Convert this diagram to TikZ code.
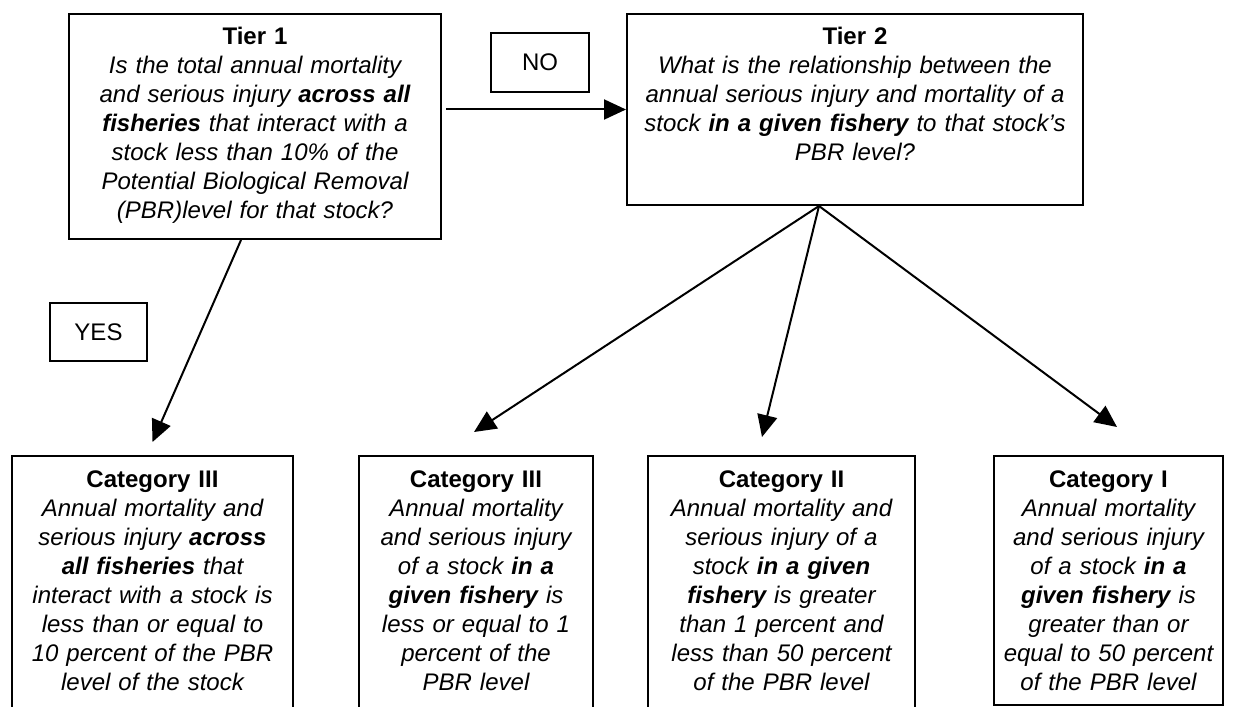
\documentclass[tikz,border=0pt]{standalone}
\usepackage{fontspec}
\setmainfont{Liberation Sans}
\usetikzlibrary{arrows.meta}
\begin{document}
\begin{tikzpicture}[x=0.5pt, y=-0.5pt,
  frame/.style={draw, line width=1pt, inner sep=0pt},
  txt/.style={anchor=base, inner sep=0pt, align=center, font=\fontsize{12}{14.5}\selectfont},
  link/.style={line width=1pt, -{Triangle[length=11pt, width=10pt]}}]

  % === 上层两个问题框 ===
  \node[frame, anchor=north west, minimum width=186pt, minimum height=112.5pt] (tier1) at (68,13) {};
  \node[frame, anchor=north west, minimum width=228pt, minimum height=95.5pt] (tier2) at (626,13) {};

  \node[txt, text width=180pt] (tier1txt) at ([yshift=-16pt]tier1.north) {\textbf{Tier 1}\\
    \itshape Is the total annual mortality\\
    and serious injury \textbf{across all}\\
    \textbf{fisheries} that interact with a\\
    stock less than 10\% of the\\
    Potential Biological Removal\\
    (PBR)level for that stock?};
  \node[txt, text width=220pt] (tier2txt) at ([yshift=-16pt]tier2.north) {\textbf{Tier 2}\\
    \itshape What is the relationship between the\\
    annual serious injury and mortality of a\\
    stock \textbf{in a given fishery} to that stock's\\
    PBR level?};

  % === YES / NO 标签框 ===
  \node[frame, anchor=north west, minimum width=49pt, minimum height=29.5pt,
        font=\fontsize{12}{14.5}\selectfont] (nobox) at (490,32) {NO};
  \node[frame, anchor=north west, minimum width=48.5pt, minimum height=29pt,
        font=\fontsize{12}{14.5}\selectfont] (yesbox) at (49,302) {YES};

  % === 底部四个类别框（下边缘超出画面）===
  \node[frame, anchor=north west, minimum width=140.5pt, minimum height=130pt] (cat3a) at (11,455) {};
  \node[frame, anchor=north west, minimum width=117pt, minimum height=130pt] (cat3b) at (358,455) {};
  \node[frame, anchor=north west, minimum width=133.5pt, minimum height=130pt] (cat2) at (647,455) {};
  \node[frame, anchor=north west, minimum width=114.5pt, minimum height=124.5pt] (cat1) at (993,455) {};

  \node[txt, text width=135pt] (cat3atxt) at ([yshift=-16pt]cat3a.north) {\textbf{Category III}\\
    \itshape Annual mortality and\\
    serious injury \textbf{across}\\
    \textbf{all fisheries} that\\
    interact with a stock is\\
    less than or equal to\\
    10 percent of the PBR\\
    level of the stock};
  \node[txt, text width=112pt] (cat3btxt) at ([yshift=-16pt]cat3b.north) {\textbf{Category III}\\
    \itshape Annual mortality\\
    and serious injury\\
    of a stock \textbf{in a}\\
    \textbf{given fishery} is\\
    less or equal to 1\\
    percent of the\\
    PBR level};
  \node[txt, text width=128pt] (cat2txt) at ([yshift=-16pt]cat2.north) {\textbf{Category II}\\
    \itshape Annual mortality and\\
    serious injury of a\\
    stock \textbf{in a given}\\
    \textbf{fishery} is greater\\
    than 1 percent and\\
    less than 50 percent\\
    of the PBR level};
  \node[txt, text width=110pt] (cat1txt) at ([yshift=-16pt]cat1.north) {\textbf{Category I}\\
    \itshape Annual mortality\\
    and serious injury\\
    of a stock \textbf{in a}\\
    \textbf{given fishery} is\\
    greater than or\\
    equal to 50 percent\\
    of the PBR level};

  % === 箭头 ===
  \draw[link, shorten <=2pt] (tier1.east |- tier2.west) -- (tier2.west);
  \draw[link] ([xshift=-7pt]tier1.south) -- ([yshift=6.5pt]cat3a.north);

  % 第二层的三支箭头从同一点出发
  \coordinate (fan) at ([xshift=-18pt]tier2.south);
  \draw[link] (fan) -- ([xshift=-1pt, yshift=11.5pt]cat3b.north);
  \draw[link] (fan) -- ([xshift=-9.75pt, yshift=9pt]cat2.north);
  \draw[link] (fan) -- ([xshift=4.25pt, yshift=14pt]cat1.north);

  \pgfresetboundingbox
  \useasboundingbox (0,0) rectangle (1235,706);
\end{tikzpicture}
\end{document}
